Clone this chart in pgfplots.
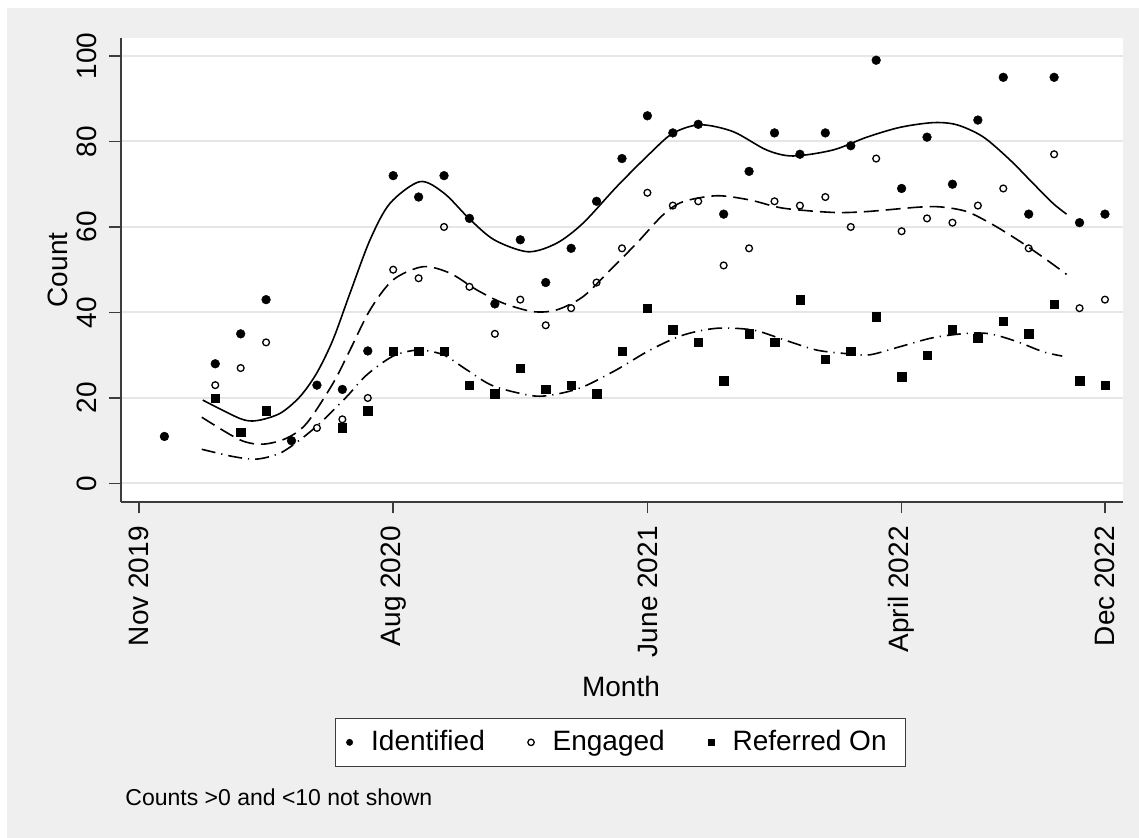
\documentclass[border=0pt]{standalone}
\usepackage{fontspec}
\setmainfont{Liberation Sans}
\usepackage{pgfplots}
\usepackage{pgfplotstable}
\pgfplotsset{compat=1.18}
\definecolor{bggray}{RGB}{239,239,239}
\definecolor{gridgray}{RGB}{230,230,230}
\definecolor{axgray}{RGB}{60,60,60}
\pgfplotsset{mylegimg/.style={legend image code/.code={\draw[##1, mark size=1.6pt] plot coordinates {(0pt,0pt)};\path[draw=none,fill=none] (0pt,0pt) -- (8.8pt,0pt);}}}

\pgfplotstableread{
x y
1 11
3 28
4 35
5 43
6 10
7 23
8 22
9 31
10 72
11 67
12 72
13 62
14 42
15 57
16 47
17 55
18 66
19 76
20 86
21 82
22 84
23 63
24 73
25 82
26 77
27 82
28 79
29 99
30 69
31 81
32 70
33 85
34 95
35 63
36 95
37 61
38 63
}\identified

\pgfplotstableread{
x y
3 23
4 27
5 33
7 13
8 15
9 20
10 50
11 48
12 60
13 46
14 35
15 43
16 37
17 41
18 47
19 55
20 68
21 65
22 66
23 51
24 55
25 66
26 65
27 67
28 60
29 76
30 59
31 62
32 61
33 65
34 69
35 55
36 77
37 41
38 43
}\engaged

\pgfplotstableread{
x y
3 20
4 12
5 17
8 13
9 17
10 31
11 31
12 31
13 23
14 21
15 27
16 22
17 23
18 21
19 31
20 41
21 36
22 33
23 24
24 35
25 33
26 43
27 29
28 31
29 39
30 25
31 30
32 36
33 34
34 38
35 35
36 42
37 24
38 23
}\referred

\pgfplotstableread{
x y
2.51 19.5
3.97 15.2
4.63 14.7
5.55 16.4
6.33 20.3
6.99 25.8
7.63 33.6
8.30 44.5
9.09 57.0
9.87 65.5
11.05 70.6
12.00 67.9
12.98 62.0
13.97 57.0
15.30 54.2
16.43 56.2
17.47 60.9
18.79 69.4
20.10 77.2
21.00 81.9
22.07 83.9
23.37 82.3
24.69 78.0
25.73 76.6
27.30 78.0
28.63 81.0
29.94 83.3
31.24 84.4
32.17 83.9
33.20 81.1
34.26 75.7
35.17 70.2
35.96 65.5
36.49 63.0
}\fitI

\pgfplotstableread{
x y
2.47 15.5
3.97 10.2
4.88 9.2
5.81 10.6
6.60 14.1
7.63 23.4
8.30 31.2
9.09 40.6
9.99 47.6
11.17 50.7
12.23 49.2
13.28 45.3
14.32 42.2
15.50 40.2
16.43 40.6
17.47 43.7
18.53 49.9
19.58 56.2
20.61 62.8
21.40 65.9
22.73 67.3
24.04 66.3
25.33 64.4
27.30 63.4
28.63 63.6
30.59 64.6
31.51 64.7
32.56 63.6
33.60 60.5
34.66 56.6
35.71 52.3
36.49 48.9
}\fitE

\pgfplotstableread{
x y
2.47 8.0
3.70 6.3
4.63 5.7
5.55 7.1
6.33 10.2
7.12 14.1
8.17 20.3
8.96 25.4
10.00 29.8
10.98 31.2
11.97 30.1
12.89 26.6
13.94 22.8
15.50 20.5
16.43 20.9
17.47 22.6
18.79 26.6
20.10 31.2
21.40 34.7
22.73 36.3
24.15 35.9
25.33 33.7
26.66 31.2
27.97 30.3
28.76 30.1
29.94 32.0
31.24 34.1
32.56 35.1
33.48 35.0
34.53 33.2
35.57 30.8
36.32 29.8
}\fitR

\begin{document}
\begin{tikzpicture}
\fill[white] (0pt,0pt) rectangle (569.5pt,419pt);
\fill[bggray] (3.5pt,0pt) rectangle (569.5pt,415pt);
\begin{axis}[
  at={(60.5pt,168pt)}, anchor=south west,
  scale only axis, width=501pt, height=232pt,
  xmin=-0.708, xmax=38.71, ymin=-4.33, ymax=104.2,
  axis lines=left,
  axis line style={-, draw=axgray, line width=0.75pt},
  axis background/.style={fill=white},
  tick align=outside, major tick length=5.75pt,
  every tick/.style={draw=axgray, line width=0.75pt},
  xtick={0,10,20,30,38},
  xticklabels={Nov 2019, Aug 2020, June 2021, April 2022, Dec 2022},
  ytick={0,20,40,60,80,100},
  yticklabels={0,20,40,60,80,100},
  /pgf/number format/assume math mode=true,
  ymajorgrids, grid style={draw=gridgray, line width=1pt},
  every tick label/.append style={font=\fontsize{14}{16.8}\selectfont},
  xticklabel style={rotate=90, anchor=east, inner xsep=6.2pt},
  yticklabel style={rotate=90, anchor=south, inner ysep=6pt},
  xlabel={Month},
  xlabel style={at={(axis description cs:0.499,-0.397)}, anchor=center, font=\fontsize{14}{16.8}\selectfont},
  ylabel={Count},
  ylabel style={at={(axis description cs:-0.063,0.5)}, anchor=center, font=\fontsize{14}{16.8}\selectfont},
  legend columns=3,
  legend style={at={(0.4985,-0.518)}, anchor=center, draw=axgray, line width=0.6pt, fill=white,
    font=\fontsize{14}{16.8}\selectfont, inner xsep=5.5pt, inner ysep=4.3pt,
    /tikz/every even column/.append style={column sep=19.5pt}},
]
\addplot[only marks, mark=*, mark size=2.2pt, draw=black, fill=black, line width=0.2pt, mylegimg] table {\identified};
\addlegendentry{Identified}
\addplot[only marks, mark=o, mark size=1.7pt, draw=black, line width=0.65pt, mylegimg] table {\engaged};
\addlegendentry{Engaged}
\addplot[only marks, mark=square*, mark size=2.1pt, draw=black, fill=black, line width=0.2pt, mylegimg] table {\referred};
\addlegendentry{Referred On\hspace*{2pt}}
\addplot[smooth, black, line width=0.8pt, forget plot] table {\fitI};
\addplot[smooth, black, line width=0.8pt, dash pattern=on 7.5pt off 3.5pt, forget plot] table {\fitE};
\addplot[smooth, black, line width=0.8pt, dash pattern=on 7pt off 3pt on 0.6pt off 3pt, forget plot] table {\fitR};
\end{axis}
\node[anchor=west, font=\fontsize{11.5}{13.8}\selectfont, inner sep=0pt] at (62.5pt,20.5pt) {Counts >0 and <10 not shown};
\end{tikzpicture}
\end{document}
